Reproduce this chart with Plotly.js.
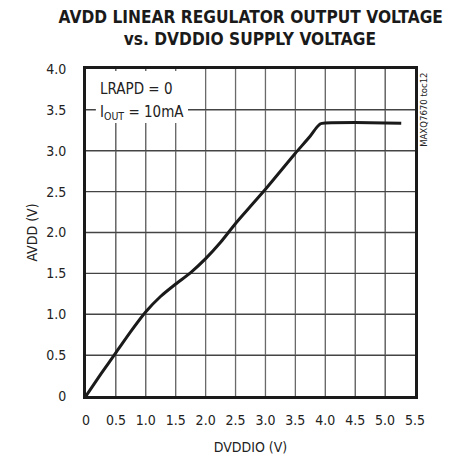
<!DOCTYPE html>
<html>
<head>
<meta charset="utf-8">
<script src="https://cdn.plot.ly/plotly-3.0.1.min.js"></script>
<style>
html,body{margin:0;padding:0;background:#fff;}
#chart{width:454px;height:459px;}
</style>
</head>
<body>
<div id="chart"></div>
<script>
const dvddio = [0, 0.25, 0.5, 0.75, 1.0, 1.25, 1.5, 1.75, 2.0, 2.25, 2.5, 2.75, 3.0, 3.25, 3.5, 3.75, 3.85, 3.92, 4.0, 4.5, 5.0, 5.27];
const avdd   = [0, 0.27, 0.53, 0.79, 1.03, 1.22, 1.37, 1.51, 1.68, 1.88, 2.11, 2.32, 2.53, 2.75, 2.97, 3.18, 3.28, 3.33, 3.34, 3.345, 3.34, 3.335];
const xTickVals = [0, 0.5, 1.0, 1.5, 2.0, 2.5, 3.0, 3.5, 4.0, 4.5, 5.0, 5.5];
const xTickText = ["0", "0.5", "1.0", "1.5", "2.0", "2.5", "3.0", "3.5", "4.0", "4.5", "5.0", "5.5"];
const yTickVals = [0, 0.5, 1.0, 1.5, 2.0, 2.5, 3.0, 3.5, 4.0];
const yTickText = ["0", "0.5", "1.0", "1.5", "2.0", "2.5", "3.0", "3.5", "4.0"];
const titleLines = ["AVDD LINEAR REGULATOR OUTPUT VOLTAGE", "vs. DVDDIO SUPPLY VOLTAGE"];
const noteLines = ["LRAPD = 0", "I<sub>OUT</sub> = 10mA"];

const FONT = '"DejaVu Sans Condensed", "Liberation Sans", Arial, sans-serif';
const TFONT = '"DejaVu Sans", "Liberation Sans", Arial, sans-serif';

const trace = {
  x: dvddio, y: avdd, type: 'scatter', mode: 'lines',
  line: {color: '#1a1a1a', width: 3, shape: 'spline', smoothing: 0.6},
  hoverinfo: 'skip'
};

// grid lines built from the tick arrays
const gridShapes = []
  .concat(xTickVals.slice(1, -1).map(v => ({type: 'line', xref: 'x', yref: 'paper', x0: v, x1: v, y0: 0, y1: 1,
    layer: 'below', line: {color: '#6a6a6a', width: 1.3}})))
  .concat(yTickVals.slice(1, -1).map(v => ({type: 'line', xref: 'paper', yref: 'y', x0: 0, x1: 1, y0: v, y1: v,
    layer: 'below', line: {color: '#444444', width: 1.3}})));

// white box behind the condition note
const noteBox = {type: 'rect', xref: 'paper', yref: 'paper', x0: 0.03, x1: 0.31, y0: 0.835, y1: 0.994,
  layer: 'above', fillcolor: '#ffffff', line: {width: 0}};

const layout = {
  width: 454, height: 459,
  margin: {l: 86, r: 39, t: 69, b: 63},
  paper_bgcolor: '#ffffff', plot_bgcolor: 'rgba(0,0,0,0)',
  showlegend: false,
  font: {family: FONT, size: 14, color: '#222'},
  xaxis: {
    range: [0, 5.5], tickmode: 'array', tickvals: xTickVals, ticktext: xTickText,
    showgrid: true, gridcolor: '#6a6a6a', gridwidth: 1.3,
    zeroline: false, showline: true, linecolor: '#1a1a1a', linewidth: 3, mirror: true,
    ticks: '', ticklabelstandoff: 9,
    tickfont: {family: FONT, size: 14, color: '#222'},
    title: {text: 'DVDDIO (V)', font: {family: FONT, size: 14, color: '#222'}, standoff: 16}
  },
  yaxis: {
    range: [0, 4.0], tickmode: 'array', tickvals: yTickVals, ticktext: yTickText,
    showgrid: true, gridcolor: '#444444', gridwidth: 1.3,
    zeroline: false, showline: true, linecolor: '#1a1a1a', linewidth: 3, mirror: true,
    ticks: '', ticklabelstandoff: 14,
    tickfont: {family: FONT, size: 14, color: '#222'},
    title: {text: 'AVDD (V)', font: {family: FONT, size: 14, color: '#222'}, standoff: 6}
  },
  shapes: gridShapes.concat([noteBox]),
  annotations: [
    {text: '<b>' + titleLines[0] + '</b>', xref: 'paper', yref: 'paper', x: 0.4985, y: 1.162,
     xanchor: 'center', yanchor: 'middle', showarrow: false,
     font: {family: TFONT, size: 18, color: '#1a1a1a'}},
    {text: '<b>' + titleLines[1] + '</b>', xref: 'paper', yref: 'paper', x: 0.4985, y: 1.092,
     xanchor: 'center', yanchor: 'middle', showarrow: false,
     font: {family: TFONT, size: 18, color: '#1a1a1a'}},
    {text: noteLines[0], xref: 'paper', yref: 'paper', x: 0.036, y: 0.94,
     xanchor: 'left', yanchor: 'middle', align: 'left',
     showarrow: false, font: {family: FONT, size: 15, color: '#222'}},
    {text: noteLines[1], xref: 'paper', yref: 'paper', x: 0.036, y: 0.866,
     xanchor: 'left', yanchor: 'middle', align: 'left',
     showarrow: false, font: {family: FONT, size: 15, color: '#222'}},
    {text: 'MAXQ7670 toc12', xref: 'paper', yref: 'paper', x: 1.025, y: 0.995, xanchor: 'center', yanchor: 'top',
     textangle: -90, showarrow: false, font: {family: FONT, size: 9.5, color: '#222'}}
  ]
};

Plotly.newPlot('chart', [trace], layout, {displayModeBar: false}).then(function (gd) {
  const texts = gd.querySelectorAll('.annotation-text');
  [0, 1].forEach(function (i) {
    const t = texts[i];
    if (!t) return;
    t.style.transformBox = 'fill-box';
    t.style.transformOrigin = 'center';
    t.style.transform = 'scaleX(0.86)';
  });
});
</script>
</body>
</html>
